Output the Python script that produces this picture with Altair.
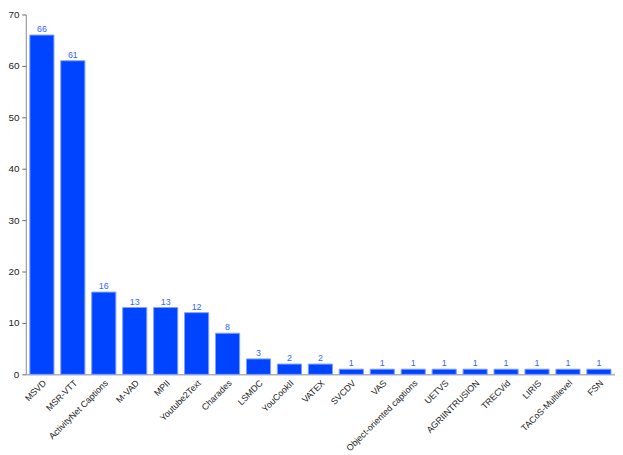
import altair as alt
import pandas as pd

categories = ["MSVD", "MSR-VTT", "ActivityNet Captions", "M-VAD", "MPII", "Youtube2Text",
              "Charades", "LSMDC", "YouCookII", "VATEX", "SVCDV", "VAS",
              "Object-oriented captions", "UETVS", "AGRIINTRUSION", "TRECVid", "LIRIS",
              "TACoS-Multilevel", "FSN"]
counts = [66, 61, 16, 13, 13, 12, 8, 3, 2, 2, 1, 1, 1, 1, 1, 1, 1, 1, 1]

df = pd.DataFrame({"dataset": categories, "count": counts})

x = alt.X("dataset:N", sort=categories,
          scale=alt.Scale(paddingInner=0.22, paddingOuter=0.13),
          axis=alt.Axis(title=None, labelAngle=-45, labelAlign="right", labelBaseline="top",
                        labelFont="Liberation Sans", labelFontSize=9, labelColor="#222222",
                        ticks=False, domainColor="#888888", labelPadding=4, labelLimit=300))
y = alt.Y("count:Q", scale=alt.Scale(domain=[0, 70], nice=False),
          axis=alt.Axis(title=None, values=[0, 10, 20, 30, 40, 50, 60, 70], grid=False,
                        labelFont="Liberation Sans", labelFontSize=10, labelColor="#222222",
                        tickSize=4, tickColor="#666666", domainColor="#888888", labelPadding=3))

base = alt.Chart(df).encode(x=x, y=y)
bars = base.mark_bar(color="#0044ff", stroke="#7fa0ff", strokeWidth=1)
labels = base.mark_text(dy=-6, font="Liberation Sans", fontSize=9, color="#3366ff").encode(text="count:Q")

chart = (bars + labels).properties(
    width=596, height=364,
    autosize=alt.AutoSizeParams(type="none"),
    padding={"left": 18, "top": 4, "right": 0, "bottom": 78},
).configure(background="white", view=alt.ViewConfig(stroke=None))

chart.save("out.html", embed_options={"renderer": "svg", "actions": False})
